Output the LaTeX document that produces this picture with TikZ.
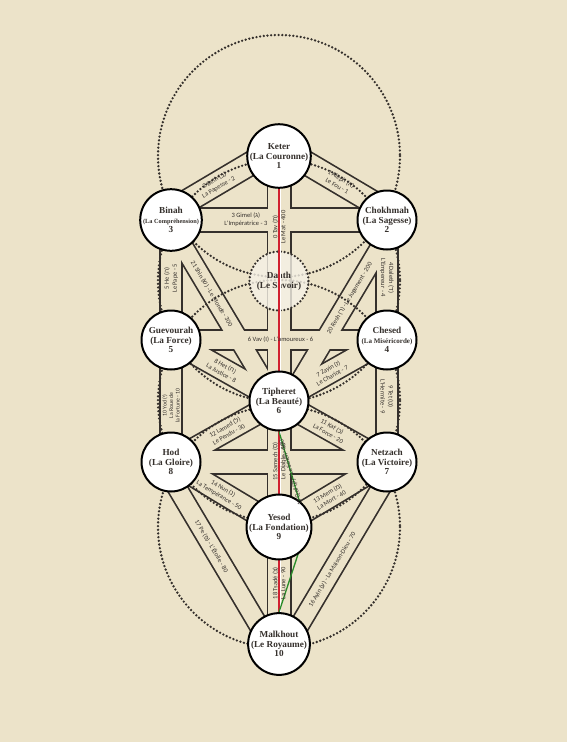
\documentclass[tikz,border=0pt]{standalone}
\usepackage{fontspec}
\setmainfont{Liberation Serif}
\newfontfamily\pathfont{Carlito}
\newfontfamily\hebfont{Liberation Sans}
\usetikzlibrary{positioning,calc}
\definecolor{parchment}{HTML}{ECE3C9}
\definecolor{ink}{HTML}{35302C}
\definecolor{veilfill}{HTML}{F5F1E6}
\definecolor{axisred}{HTML}{D12030}
\definecolor{axisgreen}{HTML}{2A8C2A}
\newcommand{\heb}[1]{{\hebfont #1}}
% a/b/offset/width of every corridor
\newcommand{\treepaths}{binah/keter/8/25, keter/chokhmah/8/25, binah/chokhmah/0/26,
  tipheret/keter/0/25, chokhmah/chesed/0/24, binah/guevourah/0/24, guevourah/chesed/0/22,
  tipheret/chesed/0/24, guevourah/tipheret/0/24, chesed/netzach/0/24, guevourah/hod/0/24,
  tipheret/netzach/0/24, hod/tipheret/0/24, yesod/netzach/0/24, hod/yesod/0/24,
  yesod/tipheret/0/25, netzach/malkhout/8/21, malkhout/hod/8/21, malkhout/yesod/0/25,
  chokhmah/tipheret/8/21, tipheret/binah/3/21, hod/netzach/0/26}
\pgfdeclarelayer{ground}
\pgfdeclarelayer{edge}
\pgfdeclarelayer{lane}
\pgfdeclarelayer{dots}
\pgfdeclarelayer{veil}
\pgfdeclarelayer{axis}
\pgfsetlayers{ground,edge,lane,dots,veil,axis,main}

\begin{document}
\begin{tikzpicture}[
    x=1pt, y=-1pt,
    sephira/.style={circle, draw=black, line width=2pt, fill=white, minimum size=59pt, inner sep=0pt,
      align=center, text=ink, font=\bfseries\fontsize{9.2}{9.8}\selectfont},
    daath/.style={sephira, draw=ink, dash pattern=on 0pt off 3.7pt, line cap=round, line width=2.6pt,
      fill=veilfill, fill opacity=0.8, text opacity=1},
    edge/.style={draw=ink},
    lane/.style={draw=parchment},
    ring/.style={draw=ink, line width=2.6pt, dash pattern=on 0pt off 3.7pt, line cap=round},
    lbl/.style={font=\pathfont\fontsize{6.5}{8}\selectfont, text=ink, align=center, inner sep=0pt},
]
\begin{pgfonlayer}{ground}
\fill[parchment] (0,0) rectangle (567,742);
\end{pgfonlayer}
\useasboundingbox (0,0) rectangle (567,742);

% Sephiroth
\node[sephira] (keter) at (279,156) {Keter\\(La Couronne)\\1};
\node[sephira] (binah) at (171,220) {Binah\\{\fontsize{6.3}{7.4}\selectfont(La Compréhension)}\\3};
\node[sephira] (chokhmah) at (387,220) {Chokhmah\\(La Sagesse)\\2};
\begin{pgfonlayer}{veil}
\node[daath] (daath) at (279,281) {Daath\\(Le Savoir)};
\end{pgfonlayer}
\node[sephira] (guevourah) at (171,340) {Guevourah\\(La Force)\\5};
\node[sephira] (chesed) at (387,340) {Chesed\\{\fontsize{7}{8}\selectfont(La Miséricorde)}\\4};
\node[sephira] (tipheret) at (279,401) {Tipheret\\(La Beauté)\\6};
\node[sephira] (hod) at (171,462) {Hod\\(La Gloire)\\8};
\node[sephira] (netzach) at (387,462) {Netzach\\(La Victoire)\\7};
\node[sephira] (yesod) at (279,527) {Yesod\\(La Fondation)\\9};
\node[sephira] (malkhout) at (279,644) {Malkhout\\(Le Royaume)\\10};

% Corridors: dark outline, then the lane inside
\begin{pgfonlayer}{edge}
\foreach \a/\b/\s/\w in \treepaths {
  \coordinate (\a-\b-a) at ($(\a)!\s pt!90:(\b)$);
  \coordinate (\a-\b-b) at ($(\b)!\s pt!-90:(\a)$);
  \draw[edge, line width=\w pt] (\a-\b-a) -- (\a-\b-b);
}
\end{pgfonlayer}
\begin{pgfonlayer}{lane}
\foreach \a/\b/\s/\w in \treepaths
  \draw[lane, line width=\w pt-3.4pt] (\a-\b-a) -- (\a-\b-b);
\end{pgfonlayer}

% Dotted circles
\begin{pgfonlayer}{dots}
\foreach \c in {keter,daath,tipheret,yesod}
  \draw[ring] (\c) circle[radius=121];
\end{pgfonlayer}

% Middle axis
\coordinate (bend) at (307,527);
\begin{pgfonlayer}{axis}
\draw[axisred, line width=1.6pt] (keter.south) -- (malkhout.north);
\draw[white, line width=0.7pt] ([xshift=1.5pt]keter.south) -- ([xshift=1.5pt]malkhout.north);
\draw[axisgreen, line width=1.3pt] (tipheret.south) -- (bend) -- (malkhout.north);
\end{pgfonlayer}

% Path labels
\path (keter-chokhmah-a) -- (keter-chokhmah-b) node[lbl, sloped, pos=0.52] {1 Aleph (\heb{א})\\Le Fou - 1};
\path (binah-keter-a) -- (binah-keter-b) node[lbl, sloped, pos=0.46] {2 Beth (\heb{ב})\\La Papesse - 2};
\path (binah) -- (chokhmah) node[lbl, pos=0.28] {3 Gimel (\heb{ג})\\L'Impératrice - 3};
\path (tipheret) -- (keter) node[lbl, rotate=90, pos=0.79] {0 Tav (\heb{ת})\\Le Mat - 400};
\path (chokhmah) -- (chesed) node[lbl, rotate=-90, pos=0.46] {4 Daleth (\heb{ד})\\L'Empereur - 4};
\path (binah) -- (guevourah) node[lbl, rotate=90, pos=0.46] {5 He (\heb{ה})\\Le Pape - 5};
\path (guevourah) -- (chesed) node[lbl, pos=0.51] {6 Vav (\heb{ו}) - L'amoureux - 6};
\path (tipheret) -- (chesed) node[lbl, sloped, pos=0.45] {7 Zayin (\heb{ז})\\Le Chariot - 7};
\path (guevourah) -- (tipheret) node[lbl, sloped, pos=0.47] {8 Het (\heb{ח})\\La Justice - 8};
\path (chesed) -- (netzach) node[lbl, rotate=-90, pos=0.43] {9 Tet (\heb{ט})\\L'Hermite - 9};
\path (guevourah) -- (hod) node[lbl, rotate=90, pos=0.57, font=\pathfont\fontsize{5.8}{6.6}\selectfont] {10 Yod (\heb{י})\\La Roue de\\la Fortune - 10};
\path (tipheret) -- (netzach) node[lbl, sloped, pos=0.45] {11 Kaf (\heb{כ})\\La Force - 20};
\path (hod) -- (tipheret) node[lbl, sloped, pos=0.53] {12 Lamed (\heb{ל})\\Le Pendu - 30};
\path (yesod) -- (netzach) node[lbl, sloped, pos=0.41] {13 Mem (\heb{מ})\\La Mort - 40};
\path (hod) -- (yesod) node[lbl, sloped, pos=0.45] {14 Nun (\heb{נ})\\La Tempérance - 50};
\path (yesod) -- (tipheret) node[lbl, rotate=90, pos=0.52] {15 Samech (\heb{ס})\\Le Diable - 60};
\path (netzach-malkhout-b) -- (netzach-malkhout-a) node[lbl, sloped, pos=0.43] {16 Ayin (\heb{ע}) - La Maison-Dieu - 70};
\path (malkhout-hod-b) -- (malkhout-hod-a) node[lbl, sloped, pos=0.44] {17 Pe (\heb{פ}) - L'Étoile - 80};
\path (malkhout) -- (yesod) node[lbl, rotate=90, pos=0.56] {18 Tsadé (\heb{צ})\\La Lune - 90};
\path (bend) -- (tipheret.south) node[lbl, sloped, allow upside down, pos=0.57] {19 Qof (\heb{ק}) - Le Soleil - 100};
\path (chokhmah-tipheret-b) -- (chokhmah-tipheret-a) node[lbl, sloped, pos=0.59] {20 Resh (\heb{ר}) - Le Jugement - 200};
\path (tipheret-binah-b) -- (tipheret-binah-a) node[lbl, sloped, pos=0.40] {21 Shin (\heb{ש}) - Le Monde - 300};
\end{tikzpicture}
\end{document}
